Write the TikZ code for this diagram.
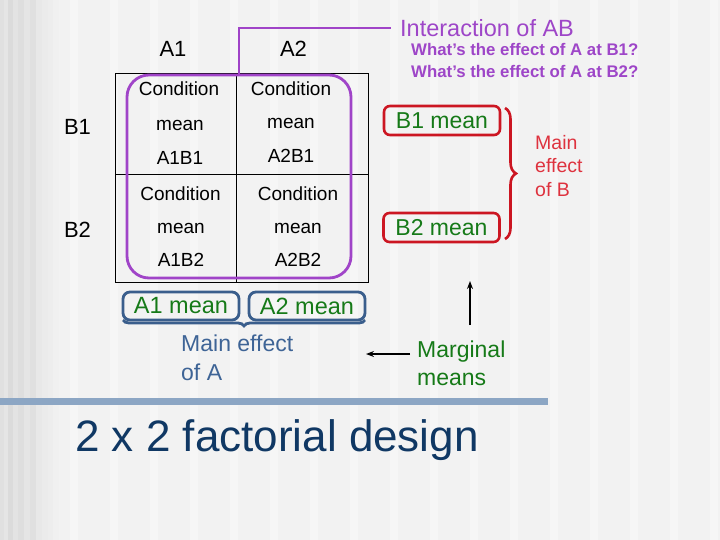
\documentclass[tikz,border=0pt]{standalone}
\usepackage{fontspec}
\setmainfont{Liberation Sans}
\usetikzlibrary{decorations.pathreplacing,arrows.meta}
\definecolor{bg}{RGB}{242,242,242}
\definecolor{stripe}{RGB}{246,246,246}
\definecolor{purp}{RGB}{160,68,200}
\definecolor{purptext}{RGB}{158,70,200}
\definecolor{grn}{RGB}{22,122,24}
\definecolor{redbox}{RGB}{204,22,34}
\definecolor{redtext}{RGB}{222,50,62}
\definecolor{bluebox}{RGB}{58,94,140}
\definecolor{bluetext}{RGB}{62,100,150}
\definecolor{barc}{RGB}{140,166,196}
\definecolor{titlec}{RGB}{16,56,100}
\begin{document}
\begin{tikzpicture}[x=1pt,y=-1pt,
  cell/.style={inner sep=0pt, font=\fontsize{19}{22}\selectfont},
  head/.style={inner sep=0pt, font=\fontsize{22}{26}\selectfont},
  redmean/.style={draw=redbox, line width=2.6pt, rounded corners=6pt, text=grn, inner sep=0pt,
     minimum width=116pt, minimum height=29pt, font=\fontsize{23}{26}\selectfont},
  bluemean/.style={draw=bluebox, line width=2.8pt, rounded corners=7pt, text=grn, inner sep=0pt,
     minimum width=116pt, minimum height=28pt, font=\fontsize{23.5}{26}\selectfont},
  arr/.style={line width=1.8pt, -{Stealth[length=8pt,width=6pt]}}
]
\fill[bg] (0,0) rectangle (720,540);
\useasboundingbox (0,0) rectangle (720,540);
% left striped band
\foreach \x/\g in {0/88,4/90,8/86,13/89,18/87,24/90,30/88,36/91,42/92,48/93,53/94}
  \fill[black!\the\numexpr100-\g\relax!white] (\x,0) rectangle ++(6,540);
\foreach \x in {70,110,150,190,230,270,310,350,390,430,470,510,550,590,630,670,710}
  \fill[stripe] (\x,0) rectangle ++(8,540);

% table
\node[draw, line width=0.8pt, minimum width=253pt, minimum height=209pt, inner sep=0pt] (tbl) at (241.5,177.5) {};
\coordinate (tmid) at (236,73);
\coordinate (tmidb) at (236,282);
\coordinate (tl) at (115,174);
\coordinate (tr) at (368,174);
\draw[line width=0.8pt] (tmid) -- (tmidb);
\draw[line width=0.8pt] (tl) -- (tr);

% headings
\node[head] (a1) at (173,49) {A1};
\node[head] (a2) at (293.5,49) {A2};
\node[head] (b1) at (77.5,127) {B1};
\node[head] (b2) at (77.5,230) {B2};

% cells
\node[cell] (c11a) at (179,89) {Condition};
\node[cell] (c11b) at (180,125) {mean};
\node[cell] (c11c) at (180,158) {A1B1};
\node[cell] (c12a) at (291,89) {Condition};
\node[cell] (c12b) at (291,123) {mean};
\node[cell] (c12c) at (291,156) {A2B1};
\node[cell] (c21a) at (180.5,194) {Condition};
\node[cell] (c21b) at (181,228) {mean};
\node[cell] (c21c) at (181,260) {A1B2};
\node[cell] (c22a) at (298,194) {Condition};
\node[cell] (c22b) at (298,228) {mean};
\node[cell] (c22c) at (298,260) {A2B2};

% interaction
\node[draw=purp, line width=2.8pt, rounded corners=22pt, minimum width=224pt, minimum height=203pt, inner sep=0pt] (inter) at (239,176.5) {};
\node[anchor=west, inner xsep=9pt, inner ysep=0pt, text=purptext, font=\fontsize{23.5}{26}\selectfont] (iab) at (391,28) {Interaction of AB};
\draw[purp, line width=2.8pt] (inter.north) |- (iab.west);
\node[anchor=west, inner sep=0pt, align=left, text=purptext, font=\fontsize{16.8}{22}\bfseries\selectfont] (q) at (411,60) {What’s the effect of A at B1?\\What’s the effect of A at B2?};

% B means
\node[redmean] (b1m) at (442,120.5) {B1 mean};
\node[redmean] (b2m) at (441.5,227.5) {B2 mean};
\coordinate (brt) at (505,108);
\coordinate (brb) at (505,239);
\draw[redbox, line width=2.6pt, decorate, decoration={brace, amplitude=11pt}] (brt) -- (brb);
\node[anchor=west, inner sep=0pt, align=left, text=redtext, font=\fontsize{19.5}{23.5}\selectfont] (meb) at (535,166) {Main\\effect\\of B};

% A means
\node[bluemean] (a1m) at (181,306) {A1 mean};
\node[bluemean] (a2m) at (307,306) {A2 mean};
\coordinate (bal) at (123,320);
\coordinate (bar) at (365,320);
\draw[bluebox, line width=2.8pt, decorate, decoration={brace, mirror, amplitude=6pt}] (bal) -- (bar);
\node[anchor=west, inner sep=0pt, align=left, text=bluetext, font=\fontsize{23}{29}\selectfont] (mea) at (181,357.5) {Main effect\\of A};

% marginal means
\node[anchor=west, inner sep=0pt, align=left, text=grn, font=\fontsize{23}{28}\selectfont] (mm) at (417,363) {Marginal\\means};
\coordinate (la0) at (410,354);
\coordinate (la1) at (366,354);
\coordinate (ua0) at (470,325);
\coordinate (ua1) at (470,281);
\draw[arr] (la0) -- (la1);
\draw[arr] (ua0) -- (ua1);

% bar and title
\fill[barc] (0,398) rectangle (548,405);
\node[anchor=west, inner sep=0pt, text=titlec, font=\fontsize{44}{50}\selectfont] (title) at (75,440) {2 x 2 factorial design};
\end{tikzpicture}
\end{document}
